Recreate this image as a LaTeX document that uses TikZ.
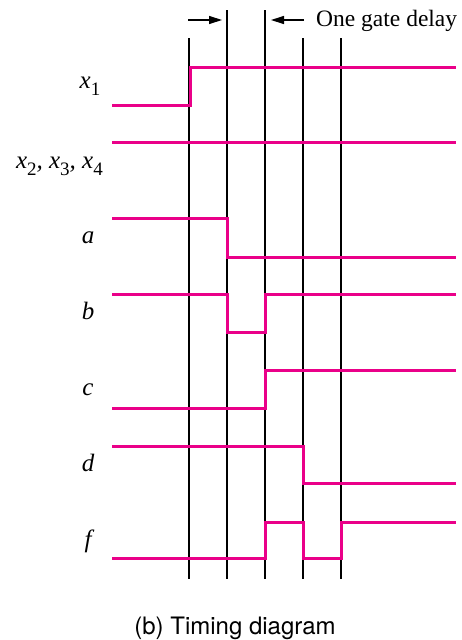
\documentclass[tikz,border=0pt]{standalone}
\usepackage{fontspec}
\setmainfont{Liberation Serif}
\newfontfamily\captionfont{TeX Gyre Heros}
\usepackage{xcolor}
\usepackage{tikz}
\usetikzlibrary{arrows.meta}
\definecolor{wavepink}{RGB}{234,0,137}
\newcommand{\lowidx}[1]{\raisebox{-7pt}{\upshape\fontsize{19}{22}\selectfont #1}}

\begin{document}
\begin{tikzpicture}[x=1pt, y=-1pt, >={Triangle[length=13pt, width=8pt]},
    wave/.style={draw=wavepink, line width=3pt, line join=miter},
    tick/.style={draw, line width=1.3pt},
    siglabel/.style={anchor=base, inner sep=0pt, font=\fontsize{25}{30}\selectfont\itshape}]
    \useasboundingbox (0,0) rectangle (461,640);
    % time marks
    \coordinate (t1) at (189,38);  \coordinate (b1) at (189,579);
    \coordinate (t2) at (227,10);  \coordinate (b2) at (227,579);
    \coordinate (t3) at (265,10);  \coordinate (b3) at (265,579);
    \coordinate (t4) at (303,38);  \coordinate (b4) at (303,579);
    \coordinate (t5) at (341,38);  \coordinate (b5) at (341,579);
    \draw[tick] (t1) -- (b1);
    \draw[tick] (t2) -- (b2);
    \draw[tick] (t3) -- (b3);
    \draw[tick] (t4) -- (b4);
    \draw[tick] (t5) -- (b5);
    % delay marker
    \coordinate (dl) at (188,20);  \coordinate (dlt) at (222,20);
    \coordinate (dr) at (304,20);  \coordinate (drt) at (271,20);
    \draw[->, line width=1.3pt] (dl) -- (dlt);
    \draw[->, line width=1.3pt] (dr) -- (drt);
    \node[anchor=base west, inner sep=0pt, font=\fontsize{23.5}{28}\selectfont] (delay) at (316,26) {One gate delay};
    % signal names
    \node[siglabel] (lx1) at (90,88) {x\lowidx{1}};
    \node[siglabel, anchor=base east] (lx2) at (103,168) {x\lowidx{2}, x\lowidx{3}, x\lowidx{4}};
    \node[siglabel] (la) at (88,243) {a};
    \node[siglabel] (lb) at (88,319) {b};
    \node[siglabel] (lc) at (88,395) {c};
    \node[siglabel] (ld) at (88,471) {d};
    \node[siglabel] (lf) at (88,547) {f};
    % waveforms
    \draw[wave] (112,105) -- (190,105) -- (190,67) -- (456,67);
    \draw[wave] (112,142) -- (456,142);
    \draw[wave] (112,218) -- (227,218) -- (227,257) -- (456,257);
    \draw[wave] (112,294) -- (227,294) -- (227,332) -- (265,332) -- (265,294) -- (456,294);
    \draw[wave] (112,408) -- (265,408) -- (265,370) -- (456,370);
    \draw[wave] (112,446) -- (303,446) -- (303,483) -- (456,483);
    \draw[wave] (112,558) -- (265,558) -- (265,522) -- (303,522) -- (303,558) -- (341,558) -- (341,522) -- (456,522);
    \node[anchor=base, inner sep=0pt, font=\captionfont\fontsize{24}{28}\selectfont] (caption) at (235,634) {(b) Timing diagram};
\end{tikzpicture}
\end{document}
